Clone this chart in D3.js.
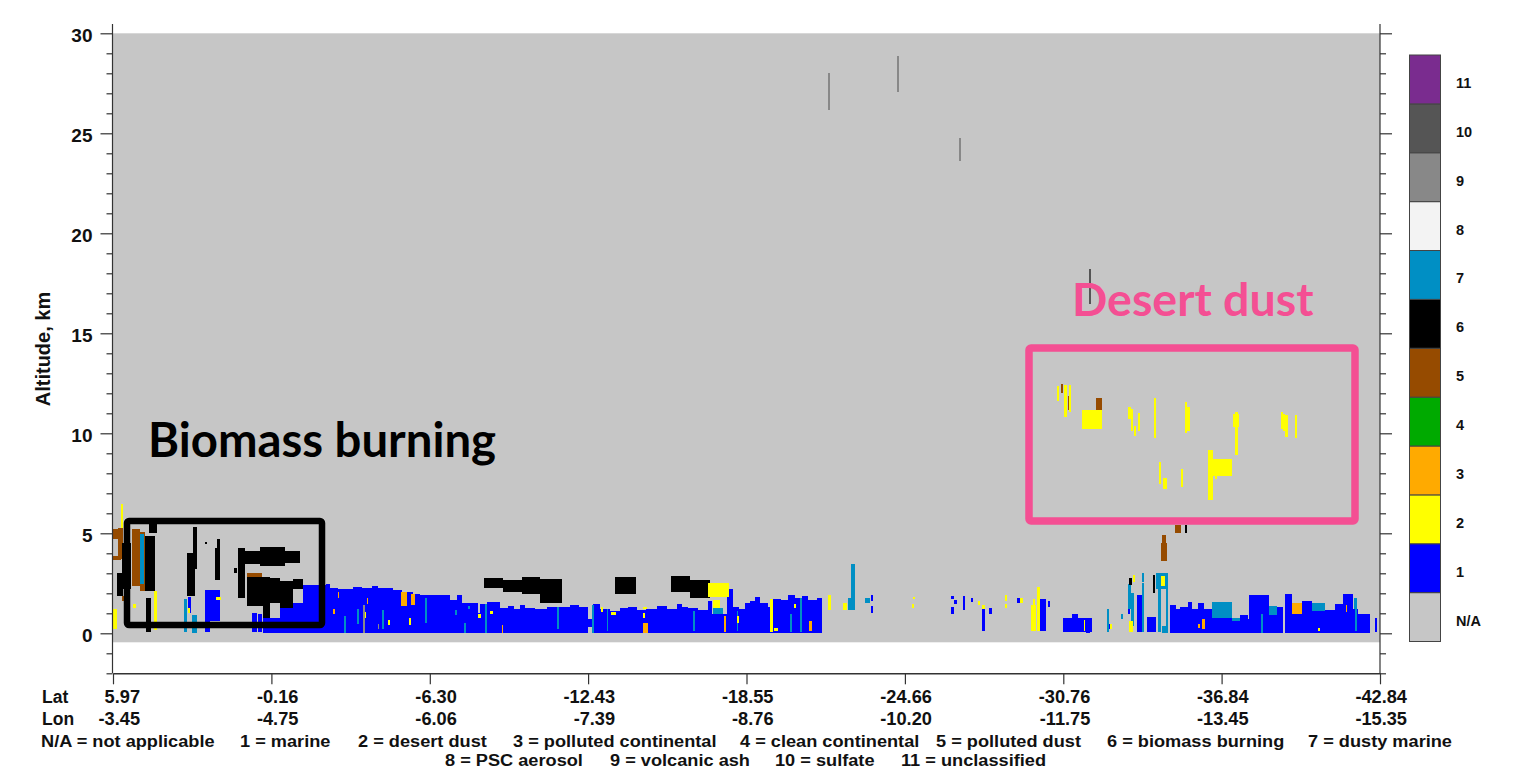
<!DOCTYPE html>
<html>
<head>
<meta charset="utf-8">
<style>
body { margin: 0; background: #fff; }
svg { display: block; }
text { font-family: "Liberation Sans", Arial, sans-serif; font-weight: bold; fill: #111; }
.axis path, .axis line { stroke: #333; }
.axis text { font-size: 19px; fill: #111; }
</style>
</head>
<body>
<svg width="1524" height="770"></svg>
<script src="https://d3js.org/d3.v7.min.js"></script>
<script>

// along-track position of the labelled ticks, and what they read
var trackTicks = [0, 158.4, 316.8, 475.1, 633.5, 791.9, 950.3, 1108.6, 1267]
var latLabels = ['5.97', '-0.16', '-6.30', '-12.43', '-18.55', '-24.66', '-30.76', '-36.84', '-42.84']
var lonLabels = ['-3.45', '-4.75', '-6.06', '-7.39', '-8.76', '-10.20', '-11.75', '-13.45', '-15.35']

var legendLabels = ['N/A', '1', '2', '3', '4', '5', '6', '7', '8', '9', '10', '11']
var legendColors = ['#c6c6c6', '#0000ff', '#ffff00', '#ffaa00', '#00aa00', '#964b00', '#000000', '#008fc4', '#f3f3f3', '#888888', '#555555', '#7a2c8f']

var keyRow1 = ['N/A = not applicable', '1 = marine', '2 = desert dust', '3 = polluted continental', '4 = clean continental', '5 = polluted dust', '6 = biomass burning', '7 = dusty marine']
var keyRow2 = ['8 = PSC aerosol', '9 = volcanic ash', '10 = sulfate', '11 = unclassified']

// every layer row is [from, to, base km, top km]
var marine = [
  [75.3, 78, 1.03, 1.83], [92, 107, 0.62, 2.15], [92, 97, 0.07, 0.62],
  [138.7, 143.7, 0.07, 1], [145.3, 148.7, 0.07, 0.95], [150.3, 167, 0.03, 0.78], [167, 190.3, 0.03, 1.53],
  [190.3, 213, 0, 2.4], [213, 217, 0, 2.45], [217, 225.3, 0, 2.28], [225.3, 240.3, 0, 2.23], [240.3, 248.7, 0, 2.33],
  [248.7, 258.7, 0, 2.28], [258.7, 265.3, 0, 2.38], [265.3, 280.3, 0, 2.28], [280.3, 288.7, 0, 2.17],
  [288.7, 300.3, 0, 2.07], [300.3, 307, 0, 1.98], [307, 337, 0, 1.92], [337, 344.3, 0, 1.65], [344.3, 348.7, 0, 1.92],
  [348.7, 365.3, 0, 1.53], [365.3, 367, 0, 1], [367, 373.7, 0, 1.48], [373.7, 387, 0, 1.58],
  [387, 395, 0, 1.28], [395, 401, 0, 1.36], [401, 407, 0, 1.24], [407, 412, 0, 1.4], [412, 422, 0, 1.25], [422, 434, 0, 1.2],
  [434, 445, 0, 1.3], [445, 457, 0, 1.34], [457, 466, 0, 1.4], [466, 475.3, 0, 1.3],
  [475.3, 480.3, 0.3, 0.7], [480.3, 487, 0, 1.45], [487, 497, 0, 1.2], [497, 507, 0, 1.14], [507, 515, 0, 1.28], [515, 523.7, 0, 1.33],
  [523.7, 533, 0, 1.15], [533, 543.7, 0, 1.24], [543.7, 553.7, 0, 1.36], [553.7, 563.7, 0, 1.2], [563.7, 569, 0, 1.46], [569, 575.3, 0, 1.34],
  [575.3, 585, 0, 1.26], [585, 595.3, 0, 1.18], [595.3, 598.7, 0, 1.62], [598.7, 613.7, 0, 0.97], [613.7, 620.3, 0, 2.2],
  [620.3, 626, 0, 1.34], [626, 632, 0, 1.22], [632, 637, 0, 1.5], [637, 642, 0, 1.62], [642, 647, 0, 1.83], [647, 655.3, 0, 1.53], [655.3, 660.3, 0, 1.3],
  [660.3, 668, 0, 1.73], [668, 675.3, 0, 1.66], [675.3, 682, 0, 1.9], [682, 689, 0, 1.76], [689, 695.3, 0, 1.88], [695.3, 703.7, 0, 1.68], [703.7, 708.7, 0, 1.78],
  [758, 760.3, 1.62, 1.92], [758, 760.3, 1.03, 1.37],
  [838, 841, 1.73, 1.87], [841.3, 844.3, 1.45, 1.67], [838, 840.7, 0.95, 1.32], [849.7, 852.3, 1.15, 1.87],
  [857.7, 860.3, 1.57, 1.78], [869.3, 872, 0.12, 1.2], [876.3, 879, 0.95, 1.25], [904.3, 907, 1.5, 1.78],
  [926.7, 932.7, 0.12, 1.73], [934.7, 937.3, 1.32, 1.62],
  [950.3, 979.3, 0.07, 0.78], [959.3, 965.3, 0.78, 0.95], [973, 977, 0, 0.1],
  [994.3, 997, 0.23, 0.45], [1015.3, 1017, 0.95, 1.2], [1024.3, 1028.7, 0.07, 1.92], [1033.7, 1043, 0.07, 0.83],
  [1057, 1063, 0, 1.42], [1063, 1067, 0, 1.2], [1067, 1075.3, 0, 1.32], [1075.3, 1078.7, 0, 1.57],
  [1078.7, 1085.3, 0, 1.23], [1085.3, 1091, 0, 1.53], [1091, 1098.7, 0, 1.23], [1098.7, 1107, 0, 1.2],
  [1107, 1118.7, 0, 0.78], [1118.7, 1127, 0, 0.62], [1127, 1135.3, 0, 0.9], [1135.3, 1136.3, 0, 0.7],
  [1136.3, 1156.3, 0, 1.92], [1156.3, 1164.3, 0, 0.9], [1164.3, 1170.3, 0, 1.33],
  [1172, 1179.3, 0, 1.95], [1179.3, 1188.7, 0, 0.95], [1188.7, 1198.7, 0, 1.62], [1198.7, 1212, 0, 1.12],
  [1212, 1222, 0, 1.15], [1222, 1230.3, 0, 1.45], [1230.3, 1239.7, 0, 1.95], [1239.7, 1245.3, 0, 1.2],
  [1245.3, 1257, 0, 0.95], [1262, 1264.3, 0.07, 0.78]
]

var dustyMarine = [
  [27, 31.3, 2.45, 4.95], [71, 74.3, 0.07, 1.73], [78.7, 83.7, 0.03, 0.9],
  [231, 232.5, 0.03, 0.87], [244.2, 245.7, 0.45, 1.2], [269.3, 270.8, 0.2, 1.15], [312.2, 313.7, 0.53, 1.78], [351, 352.5, 0.03, 0.53],
  [342.2, 343.7, 0.92, 1.15], [355.3, 357, 1.2, 1.37], [372.2, 373.7, 0.03, 1.48],
  [443.7, 445.5, 0.2, 1.3], [478.7, 481, 0, 1.4], [493.7, 495.3, 0.1, 1.2], [580, 581.5, 0.1, 1.1],
  [600, 610, 0.97, 1.28], [623.7, 625.2, 0.1, 1.1], [677, 679, 0.05, 0.95], [687, 689, 0.05, 1.75],
  [738, 741.7, 1.17, 3.48], [735.3, 738, 1.17, 1.78], [752, 757, 1.5, 1.78],
  [994.3, 996.3, 0.07, 1.23], [1008, 1010.3, 0.73, 0.95],
  [1015.3, 1017.7, 1.2, 2.45], [1017.7, 1021, 0.37, 2.03], [1028.7, 1031.3, 2.58, 3], [1028.7, 1031.3, 0.07, 2.53],
  [1043, 1055.3, 2.2, 3], [1045.3, 1047.7, 0.07, 2.2], [1053, 1055.3, 0.07, 2.78], [1048.7, 1055.3, 0, 0.37],
  [1098.7, 1118.7, 0.78, 1.57], [1118.7, 1127, 0.62, 0.78], [1103.7, 1105, 0.8, 1.2], [1148, 1149.5, 0, 0.95],
  [1156.3, 1164.3, 0.9, 1.37], [1198.7, 1212, 1.12, 1.5], [1241, 1244.3, 1.2, 1.78], [1241.5, 1243.5, 0.1, 1.2]
]

var pollutedDust = [
  [0.3, 5.3, 4.7, 5.23], [5.3, 10.3, 3.7, 5.28], [0, 7.7, 3.67, 3.87], [8.7, 11, 1.62, 1.87],
  [18.7, 27, 2.37, 5.2], [27, 32, 2.12, 5.05], [133.7, 148.7, 2.73, 3.03],
  [1047.7, 1053.7, 3.62, 4.53], [1049.3, 1052.7, 4.53, 4.92], [1061.7, 1067.7, 5.03, 5.4],
  [947.7, 949.7, 12, 12.45], [954.7, 956, 11.15, 11.85], [982.7, 988.7, 11.15, 11.75]
]

var biomass = [
  [32, 42, 2.12, 4.87], [36.3, 43.7, 5.03, 5.53], [32.7, 37.7, 0.07, 1.78], [3.7, 10.3, 1.87, 3.03], [8.7, 17.7, 2.2, 4.53],
  [73.7, 82, 1.87, 4.03], [80.3, 83.7, 3.2, 5.33], [92, 94.3, 4.45, 4.57], [102, 107, 2.67, 4.28], [103.7, 107, 4.2, 4.7],
  [125.3, 132, 1.78, 4.25], [132, 147, 3.45, 4.12], [147, 172, 3.37, 4.33], [172, 187, 3.5, 4.12], [121, 123.7, 3.03, 3.28],
  [133.7, 150.3, 1.37, 2.83], [150.3, 157, 0.78, 2.83], [157, 167, 1.53, 2.78], [167, 180.3, 1.28, 2.62], [180.3, 190.3, 2.2, 2.7],
  [371, 390, 2.28, 2.75], [390, 408.7, 2.07, 2.65], [408.7, 427, 1.98, 2.82], [427, 448.7, 1.5, 2.7],
  [502, 522.7, 1.98, 2.82], [557.7, 577, 2.08, 2.87], [577, 597, 1.75, 2.67],
  [1016.3, 1018.7, 2.42, 2.75], [1039.7, 1042.3, 2, 2.92], [1072.3, 1074.3, 5.03, 5.4]
]

var pollutedCont = [
  [224.7, 226, 1.75, 2.08], [253.7, 255.2, 1.45, 1.78], [288, 294.3, 1.37, 2.08], [298, 301.7, 1.42, 1.95],
  [220, 221.5, 0.95, 1.2],
  [388.7, 390.3, 0, 0.4], [529.7, 534.7, 0.03, 0.53], [611.3, 613, 0.07, 0.87], [696.3, 698.7, 0.12, 0.62],
  [1085.3, 1086.7, 0.25, 0.45], [1088.7, 1092, 0.2, 0.7], [1179.3, 1188.7, 0.95, 1.5], [1232.7, 1234, 1.07, 1.4]
]

var desertDust = [
  [8, 10.3, 5.28, 6.45], [0, 4.3, 0.2, 1.2], [20.3, 23, 1.25, 1.45], [41, 44.3, 0.17, 2.12], [102.7, 107.7, 1.65, 1.83], [74.7, 77, 1.03, 1.28],
  [251.3, 252.5, 0.78, 1.08], [275, 276.5, 0.42, 0.65], [296, 297.5, 0.42, 0.78],
  [365, 367.7, 0.78, 0.98], [377, 379.7, 0.95, 1.12], [487.7, 490.3, 1.07, 1.32], [497.7, 503, 0.9, 1.07],
  [529.7, 532, 0.78, 1], [530.3, 533.7, 1.2, 1.32], [595.3, 616, 1.83, 2.5], [600.3, 607, 1.28, 1.67], [624.3, 626.3, 0.53, 0.87],
  [657, 660.3, 0.07, 1.73], [661.3, 664.7, 0.1, 0.28], [681.3, 683, 1.25, 1.48],
  [714.7, 717.7, 1.17, 1.92], [730.3, 733.7, 1.17, 1.53],
  [799.7, 802, 1.73, 1.83], [798.7, 801, 1.25, 1.48], [864.7, 867, 1.4, 1.62], [869.3, 872, 1.2, 1.42],
  [891.7, 894, 1.62, 1.9], [891.7, 894, 1.25, 1.48], [907, 910.3, 1.5, 1.78],
  [917.7, 923, 0.12, 1.42], [919.7, 922, 1.42, 1.73], [924.3, 926.7, 0.12, 2.33],
  [971, 972.3, 0.12, 0.67], [997, 998.7, 0.23, 0.45], [1016.3, 1020.3, 0.07, 0.62], [1019.7, 1022, 2.58, 2.92],
  [1047.7, 1052, 2.37, 2.87], [1205.3, 1206.7, 0.12, 0.28],
  [944.3, 946.3, 11.6, 12.37], [951.3, 954.3, 10.82, 12.42], [956, 958, 11.07, 12.42],
  [968.7, 988.7, 10.2, 11.17],
  [1015.3, 1017.7, 10.7, 11.33], [1017.7, 1019.7, 10.12, 11.23], [1021, 1023, 9.87, 10.37], [1024.7, 1026.7, 10.12, 11.03],
  [1041, 1043, 9.78, 11.75], [1072.3, 1074.3, 10.03, 11.58], [1074.3, 1077, 10.12, 11.33],
  [1122, 1124.7, 8.9, 11.08], [1120.3, 1125.7, 10.33, 10.95],
  [1168, 1170.3, 10.23, 11.08], [1170.3, 1172, 10.12, 10.95], [1172.3, 1174.7, 9.82, 10.9], [1182, 1184, 9.75, 10.9],
  [1045.7, 1047.7, 7.45, 8.58], [1050.3, 1053.7, 7.23, 7.78], [1067.7, 1069.7, 7.33, 8.2],
  [1094.7, 1100.3, 6.67, 9.17], [1100.3, 1107, 7.87, 8.7], [1102.3, 1104.3, 7.7, 7.87], [1107, 1118.7, 7.87, 8.7]
]

var volcanicAsh = [[250.3, 251.5, 0.03, 1.42], [264.7, 266, 0.2, 0.45], [715, 717, 26.15, 28], [784, 786, 27.05, 28.85], [846, 848, 23.6, 24.75]]
var sulfate = [[975.5, 977.5, 16.45, 18.2]]

var layers = [
  { rows: marine, color: legendColors[1] },
  { rows: pollutedDust, color: legendColors[5] },
  { rows: dustyMarine, color: legendColors[7] },
  { rows: biomass, color: legendColors[6] },
  { rows: pollutedCont, color: legendColors[3] },
  { rows: desertDust, color: legendColors[2] },
  { rows: volcanicAsh, color: legendColors[9] },
  { rows: sulfate, color: legendColors[10] }
]

var svg = d3.select('svg')

// the source is a soft raster plot, so the curtain gets a slight blur
svg.append('defs').append('filter').attr('id', 'soft')
  .append('feGaussianBlur').attr('stdDeviation', 0.45)

// scales
var x = d3.scaleLinear().domain([0, 1267]).range([113, 1380])
var y = d3.scaleLinear().domain([-2, 30]).range([673.3, 33.3])

// no-data curtain behind the layers
svg.append('rect')
  .attr('x', x(0)).attr('width', x(1267) - x(0))
  .attr('y', y(30)).attr('height', y(-0.45) - y(30))
  .attr('fill', legendColors[0])

var plot = svg.append('g').attr('filter', 'url(#soft)')
layers.forEach(function (layer) {
  plot.append('g').selectAll('rect')
    .data(layer.rows)
    .enter().append('rect')
    .attr('x', function (d) { return x(d[0]) })
    .attr('width', function (d) { return x(d[1]) - x(d[0]) })
    .attr('y', function (d) { return y(d[3]) })
    .attr('height', function (d) { return y(d[2]) - y(d[3]) })
    .attr('shape-rendering', 'crispEdges')
    .attr('fill', layer.color)
})

// axes, minor ticks first so the majors sit on top
var majorKm = d3.range(0, 31, 5)
var minorKm = d3.range(-2, 31).filter(function (k) { return k % 5 !== 0 })

function altAxis(axisFn, tx) {
  var g = svg.append('g').attr('class', 'axis').attr('transform', 'translate(' + tx + ',0)')
  g.append('g').call(axisFn(y).tickValues(minorKm).tickSize(6).tickFormat(''))
  g.append('g').call(axisFn(y).tickValues(majorKm).tickSize(12).tickFormat(d3.format('d')))
  g.selectAll('path').remove()
  g.append('line').attr('y1', 24).attr('y2', 673.3)
  g.selectAll('line').attr('stroke-width', 1.2)
  return g
}
altAxis(d3.axisLeft, x(0) - 0.5).selectAll('text').attr('x', -20).attr('dy', '0.42em')
altAxis(d3.axisRight, x(1267)).selectAll('text').remove()

var bottom = svg.append('g').attr('class', 'axis').attr('transform', 'translate(0,' + y(-2) + ')')
  .call(d3.axisBottom(x).tickValues(trackTicks).tickSize(11).tickSizeOuter(0).tickFormat(''))
bottom.selectAll('line').attr('stroke-width', 1.2)
bottom.select('path').attr('stroke-width', 1.4)

// Lat / Lon rows under the ticks
function trackRow(labels, rowY, title) {
  svg.append('text').attr('x', 42).attr('y', rowY).style('font-size', '17.5px').text(title)
  svg.append('g').selectAll('text')
    .data(labels)
    .enter().append('text')
    .attr('text-anchor', 'end')
    .attr('transform', function (d, i) { return 'translate(' + (x(trackTicks[i]) + 27) + ',' + rowY + ') scale(1.04,1)' })
    .style('font-size', '17.5px')
    .text(function (d) { return d })
}
trackRow(latLabels, 703, 'Lat')
trackRow(lonLabels, 725, 'Lon')

// key under the chart
var keyRow1X = [41, 240, 358, 513, 740, 936, 1107, 1308]
var keyRow2X = [445, 610, 775, 901]
function keyRow(labels, xs, rowY) {
  svg.append('g').selectAll('text')
    .data(labels)
    .enter().append('text')
    .attr('transform', function (d, i) { return 'translate(' + xs[i] + ',' + rowY + ') scale(1.07,1)' })
    .style('font-size', '17px')
    .text(function (d) { return d })
}
keyRow(keyRow1, keyRow1X, 746.5)
keyRow(keyRow2, keyRow2X, 766)

svg.append('text')
  .attr('transform', 'translate(50,349) rotate(-90)')
  .attr('text-anchor', 'middle')
  .style('font-size', '20px')
  .text('Altitude, km')

// colour legend, N/A at the bottom
var band = d3.scaleBand().domain(legendLabels).range([641.5, 55])
var legend = svg.append('g')
legend.selectAll('rect')
  .data(legendLabels)
  .enter().append('rect')
  .attr('x', 1409.5).attr('width', 31)
  .attr('y', function (d) { return band(d) })
  .attr('height', band.bandwidth())
  .attr('fill', function (d, i) { return legendColors[i] })
  .attr('stroke', '#444').attr('stroke-width', 1)
legend.selectAll('text')
  .data(legendLabels)
  .enter().append('text')
  .attr('x', 1456)
  .attr('y', function (d) { return band(d) + band.bandwidth() / 2 + 8.5 })
  .style('font-size', '14.5px')
  .text(function (d) { return d })

// hand-drawn annotations over the plot
svg.append('rect')
  .attr('x', 127).attr('y', 521).attr('width', 195).attr('height', 104).attr('rx', 2)
  .attr('fill', 'none').attr('stroke', '#000').attr('stroke-width', 6.5)
svg.append('rect')
  .attr('x', 1029).attr('y', 348).attr('width', 326).attr('height', 173).attr('rx', 2)
  .attr('fill', 'none').attr('stroke', '#f44f93').attr('stroke-width', 7.5)
svg.append('text').attr('x', 148).attr('y', 457)
  .style('font-family', 'Lato, sans-serif').style('font-size', '47.3px').style('fill', '#000')
  .text('Biomass burning')
svg.append('text').attr('x', 1072).attr('y', 316)
  .style('font-family', 'Lato, sans-serif').style('font-size', '46.5px').style('fill', '#f44f93')
  .text('Desert dust')

</script>
</body>
</html>
